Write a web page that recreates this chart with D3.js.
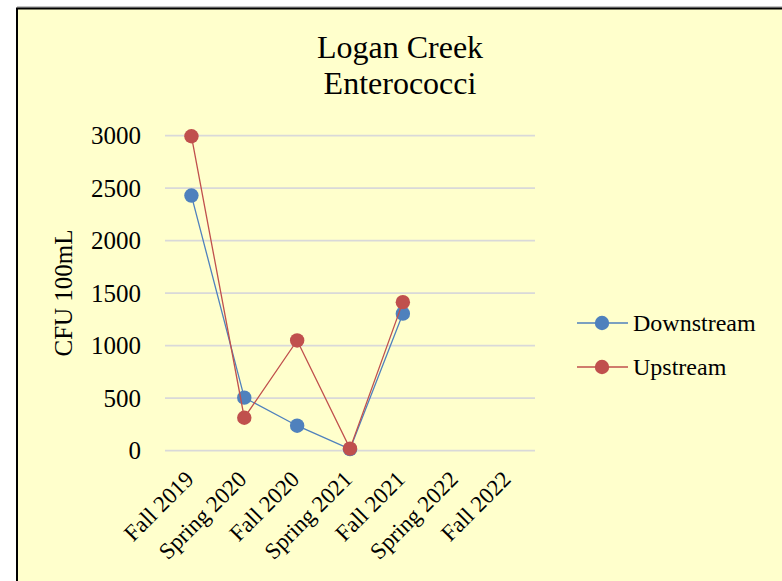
<!DOCTYPE html>
<html><head><meta charset="utf-8">
<script src="https://cdn.jsdelivr.net/npm/d3@7"></script>
<style>html,body{margin:0;padding:0;background:#fff;}svg{display:block;}</style>
</head><body>
<svg id="c" width="782" height="581"></svg>
<script>
const categories = ["Fall 2019","Spring 2020","Fall 2020","Spring 2021","Fall 2021","Spring 2022","Fall 2022"];
const downstream = [2430, 505, 238, 15, 1305, null, null];
const upstream = [2995, 314, 1050, 20, 1415, null, null];
const yTicks = [0, 500, 1000, 1500, 2000, 2500, 3000];
const seriesNames = ["Downstream", "Upstream"];
const seriesColors = ["#4F81BD", "#C0504D"];

const svg = d3.select("#c");
const font = "Liberation Serif, Times New Roman, serif";

// background frame
svg.append("rect").attr("x",0).attr("y",0).attr("width",782).attr("height",581).attr("fill","#fff");
svg.append("rect").attr("x",17).attr("y",8).attr("width",770).attr("height",580).attr("fill","#FFFFCC");
svg.append("line").attr("x1",17).attr("x2",782).attr("y1",7).attr("y2",7).attr("stroke","#888").attr("stroke-width",1);
svg.append("line").attr("x1",16).attr("x2",782).attr("y1",8.5).attr("y2",8.5).attr("stroke","#000").attr("stroke-width",2);
svg.append("line").attr("x1",17).attr("x2",17).attr("y1",8).attr("y2",581).attr("stroke","#000").attr("stroke-width",2);

const x = d3.scaleBand().domain(categories).range([165, 535]);
const y = d3.scaleLinear().domain([0, 3000]).range([450.7, 135.7]);

// title
svg.append("text").attr("x",400).attr("y",58).attr("text-anchor","middle")
  .attr("font-family",font).attr("font-size",32).text("Logan Creek");
svg.append("text").attr("x",400).attr("y",94).attr("text-anchor","middle")
  .attr("font-family",font).attr("font-size",32).text("Enterococci");

// gridlines
svg.append("g").selectAll("line").data(yTicks).join("line")
  .attr("x1",165).attr("x2",535).attr("y1",d=>y(d)).attr("y2",d=>y(d))
  .attr("stroke","#D9D9D9").attr("stroke-width",1.8);

// y axis
const yAxis = svg.append("g").attr("transform","translate(165,0)")
  .call(d3.axisLeft(y).tickValues(yTicks).tickSize(0).tickPadding(24).tickFormat(d3.format("d")));
yAxis.select(".domain").remove();
yAxis.selectAll("text").attr("font-family",font).attr("font-size",25).attr("fill","#000").attr("dy","0.33em");

svg.append("text").attr("transform","translate(72,293) rotate(-90)").attr("text-anchor","middle")
  .attr("font-family",font).attr("font-size",25).text("CFU 100mL");

// x axis
const xAxis = svg.append("g").attr("transform","translate(0,450.7)")
  .call(d3.axisBottom(x).tickSize(0).tickPadding(0));
xAxis.select(".domain").remove();
xAxis.selectAll("text").attr("font-family",font).attr("font-size",23).attr("fill","#000")
  .attr("text-anchor","end").attr("dy",0)
  .attr("transform", "translate(3.6,30) rotate(-45)");

// series
const data = [downstream, upstream];
const line = d3.line().defined(d=>d.v!=null).x(d=>x(d.c)+x.bandwidth()/2).y(d=>y(d.v));
data.forEach((vals,i)=>{
  const pts = categories.map((c,j)=>({c, v: vals[j]}));
  svg.append("path").datum(pts).attr("d",line).attr("fill","none")
    .attr("stroke",seriesColors[i]).attr("stroke-width",1.3);
  svg.append("g").selectAll("circle").data(pts.filter(d=>d.v!=null)).join("circle")
    .attr("cx",d=>x(d.c)+x.bandwidth()/2).attr("cy",d=>y(d.v)).attr("r",7.2)
    .attr("fill",seriesColors[i]);
});

// legend
const lg = svg.append("g");
seriesNames.forEach((n,i)=>{
  const ly = 323 + i*44;
  lg.append("line").attr("x1",577).attr("x2",628).attr("y1",ly).attr("y2",ly)
    .attr("stroke",seriesColors[i]).attr("stroke-width",1.3);
  lg.append("circle").attr("cx",602).attr("cy",ly).attr("r",7.2).attr("fill",seriesColors[i]);
  lg.append("text").attr("x",633).attr("y",ly).attr("dy","0.33em")
    .attr("font-family",font).attr("font-size",24).text(n);
});
</script>
</body></html>
